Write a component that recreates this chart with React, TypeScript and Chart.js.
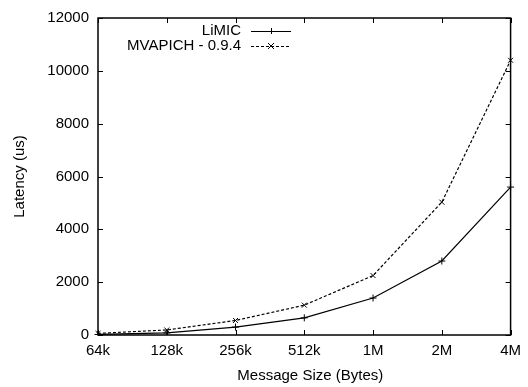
import React, { useEffect, useRef } from "react";
import { Chart, registerables } from "chart.js";

Chart.register(...registerables);

const sizes = ["64k", "128k", "256k", "512k", "1M", "2M", "4M"];
const limic = [20, 80, 300, 650, 1400, 2800, 5600];
const mvapich = [60, 190, 550, 1130, 2250, 5030, 10400];
const seriesNames = ["LiMIC", "MVAPICH - 0.9.4"];
const xTitle = "Message Size (Bytes)";
const yTitle = "Latency (us)";

const FONT = "'Liberation Sans', Arial, Helvetica, sans-serif";

const framePlugin = {
  id: "gnuFrame",
  afterDatasetsDraw(chart: any) {
    const { ctx, chartArea } = chart;
    const { left, right, top, bottom } = chartArea;
    const xs = chart.scales.x;
    const ys = chart.scales.y;
    const L = 5;
    ctx.save();
    ctx.strokeStyle = "#000";
    ctx.lineWidth = 1;
    const line = (a: number, b: number, c: number, d: number) => {
      ctx.beginPath();
      ctx.moveTo(a, b);
      ctx.lineTo(c, d);
      ctx.stroke();
    };
    xs.ticks.forEach((_: any, i: number) => {
      const px = Math.round(xs.getPixelForTick(i)) + 0.5;
      line(px, bottom, px, bottom - L);
      line(px, top, px, top + L);
    });
    ys.ticks.forEach((_: any, i: number) => {
      const py = Math.round(ys.getPixelForTick(i)) + 0.5;
      line(left, py, left + L, py);
      line(right, py, right - L, py);
    });
    ctx.lineWidth = 1.5;
    ctx.strokeRect(left, top, right - left, bottom - top);

    ctx.font = `15px ${FONT}`;
    ctx.fillStyle = "#000";

    // x title (gnuplot places it slightly right of centre)
    ctx.textAlign = "center";
    ctx.textBaseline = "middle";
    ctx.fillText(xTitle, (left + right) / 2 + 6, 376);

    // legend
    const textRight = left + 143;
    const lineStart = left + 153;
    const lineEnd = left + 193;
    const rows = [top + 13, top + 28];
    ctx.textAlign = "right";
    ctx.textBaseline = "middle";
    chart.data.datasets.forEach((ds: any, i: number) => {
      const yy = rows[i];
      ctx.fillText(ds.label, textRight, yy);
      ctx.lineWidth = 1;
      ctx.setLineDash(ds.borderDash || []);
      line(lineStart, yy + 0.5, lineEnd, yy + 0.5);
      ctx.setLineDash([]);
      const cx = (lineStart + lineEnd) / 2;
      const r = 3;
      if (ds.pointStyle === "cross") {
        line(cx - r, yy + 0.5, cx + r, yy + 0.5);
        line(cx + 0.5, yy - r, cx + 0.5, yy + r);
      } else {
        line(cx - r, yy - r, cx + r, yy + r);
        line(cx - r, yy + r, cx + r, yy - r);
      }
    });
    ctx.restore();
  },
};

export default function App() {
  const ref = useRef<HTMLCanvasElement>(null);
  useEffect(() => {
    document.body.style.margin = "0";
    const chart = new Chart(ref.current as HTMLCanvasElement, {
      type: "line",
      data: {
        labels: sizes,
        datasets: [
          {
            label: seriesNames[0],
            data: limic,
            borderColor: "#000",
            backgroundColor: "#000",
            borderWidth: 1.2,
            pointStyle: "cross",
            pointRadius: 3.5,
            pointBorderWidth: 1,
            pointBorderColor: "#000",
            tension: 0,
            fill: false,
          },
          {
            label: seriesNames[1],
            data: mvapich,
            borderColor: "#000",
            backgroundColor: "#000",
            borderWidth: 1.2,
            borderDash: [3, 2],
            pointStyle: "crossRot",
            pointRadius: 3.5,
            pointBorderWidth: 1,
            pointBorderColor: "#000",
            tension: 0,
            fill: false,
          },
        ],
      },
      options: {
        animation: false,
        responsive: true,
        maintainAspectRatio: false,
        layout: { padding: { top: 15, right: 12, left: 0, bottom: 0 } },
        plugins: {
          legend: { display: false },
          tooltip: { enabled: false },
        },
        scales: {
          x: {
            type: "category",
            offset: false,
            grid: { display: false, drawTicks: false },
            border: { display: false },
            ticks: {
              color: "#000",
              padding: 7,
              maxRotation: 0,
              autoSkip: false,
              font: { family: FONT, size: 15 },
            },
            title: { display: false },
            afterFit: (s: any) => {
              s.height = 52;
            },
          },
          y: {
            type: "linear",
            min: 0,
            max: 12000,
            grid: { display: false, drawTicks: false },
            border: { display: false },
            ticks: {
              stepSize: 2000,
              color: "#000",
              padding: 9,
              font: { family: FONT, size: 15 },
              callback: (v: any) => String(v),
            },
            title: {
              display: true,
              text: yTitle,
              color: "#000",
              font: { family: FONT, size: 15 },
              padding: { top: 11, bottom: 0 },
            },
            afterFit: (s: any) => {
              s.width = 98;
            },
          },
        },
      },
      plugins: [framePlugin],
    });
    return () => chart.destroy();
  }, []);
  return (
    <div style={{ width: 528, height: 387, position: "relative" }}>
      <canvas ref={ref} />
    </div>
  );
}
